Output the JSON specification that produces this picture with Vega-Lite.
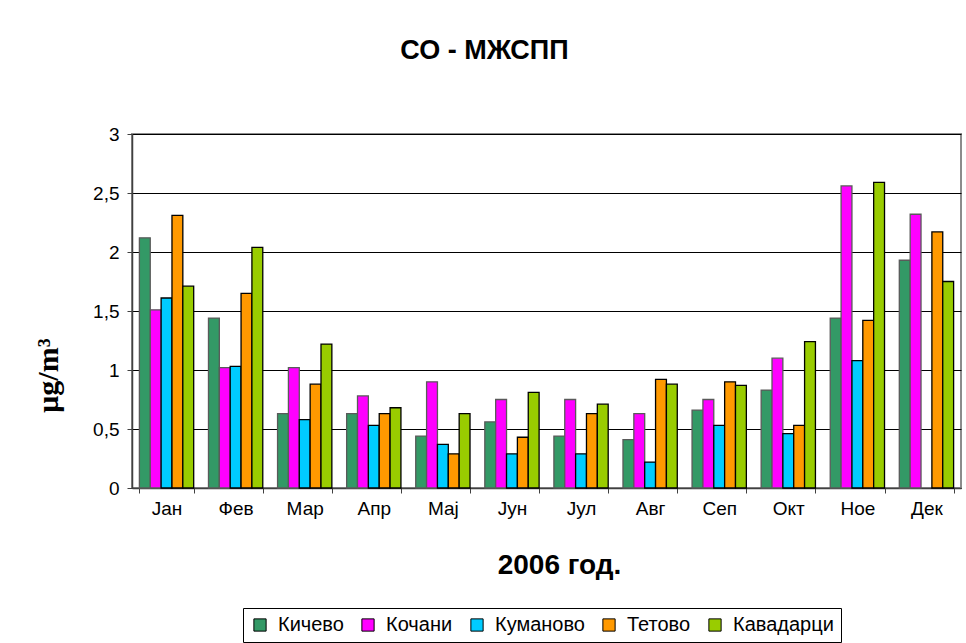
{
  "$schema": "https://vega.github.io/schema/vega-lite/v6.json",
  "width": 829,
  "height": 354,
  "autosize": {"type": "none"},
  "padding": {"left": 132, "top": 134, "right": 5, "bottom": 155},
  "background": "white",
  "title": {
    "text": "СО - МЖСПП",
    "font": "Liberation Sans",
    "fontSize": 27,
    "fontWeight": "bold",
    "color": "black",
    "anchor": "middle",
    "frame": "group",
    "baseline": "alphabetic",
    "dx": -62,
    "offset": 39
  },
  "config": {
    "view": {"stroke": "#8c8c8c", "strokeWidth": 2},
    "font": "Liberation Sans"
  },
  "data": {
    "values": [
      {"month": "Јан", "station": "Кичево", "value": 2.12},
      {"month": "Јан", "station": "Кочани", "value": 1.51},
      {"month": "Јан", "station": "Куманово", "value": 1.61},
      {"month": "Јан", "station": "Тетово", "value": 2.31},
      {"month": "Јан", "station": "Кавадарци", "value": 1.71},
      {"month": "Фев", "station": "Кичево", "value": 1.44},
      {"month": "Фев", "station": "Кочани", "value": 1.02},
      {"month": "Фев", "station": "Куманово", "value": 1.03},
      {"month": "Фев", "station": "Тетово", "value": 1.65},
      {"month": "Фев", "station": "Кавадарци", "value": 2.04},
      {"month": "Мар", "station": "Кичево", "value": 0.63},
      {"month": "Мар", "station": "Кочани", "value": 1.02},
      {"month": "Мар", "station": "Куманово", "value": 0.58},
      {"month": "Мар", "station": "Тетово", "value": 0.88},
      {"month": "Мар", "station": "Кавадарци", "value": 1.22},
      {"month": "Апр", "station": "Кичево", "value": 0.63},
      {"month": "Апр", "station": "Кочани", "value": 0.78},
      {"month": "Апр", "station": "Куманово", "value": 0.53},
      {"month": "Апр", "station": "Тетово", "value": 0.63},
      {"month": "Апр", "station": "Кавадарци", "value": 0.68},
      {"month": "Мај", "station": "Кичево", "value": 0.44},
      {"month": "Мај", "station": "Кочани", "value": 0.9},
      {"month": "Мај", "station": "Куманово", "value": 0.37},
      {"month": "Мај", "station": "Тетово", "value": 0.29},
      {"month": "Мај", "station": "Кавадарци", "value": 0.63},
      {"month": "Јун", "station": "Кичево", "value": 0.56},
      {"month": "Јун", "station": "Кочани", "value": 0.75},
      {"month": "Јун", "station": "Куманово", "value": 0.29},
      {"month": "Јун", "station": "Тетово", "value": 0.43},
      {"month": "Јун", "station": "Кавадарци", "value": 0.81},
      {"month": "Јул", "station": "Кичево", "value": 0.44},
      {"month": "Јул", "station": "Кочани", "value": 0.75},
      {"month": "Јул", "station": "Куманово", "value": 0.29},
      {"month": "Јул", "station": "Тетово", "value": 0.63},
      {"month": "Јул", "station": "Кавадарци", "value": 0.71},
      {"month": "Авг", "station": "Кичево", "value": 0.41},
      {"month": "Авг", "station": "Кочани", "value": 0.63},
      {"month": "Авг", "station": "Куманово", "value": 0.22},
      {"month": "Авг", "station": "Тетово", "value": 0.92},
      {"month": "Авг", "station": "Кавадарци", "value": 0.88},
      {"month": "Сеп", "station": "Кичево", "value": 0.66},
      {"month": "Сеп", "station": "Кочани", "value": 0.75},
      {"month": "Сеп", "station": "Куманово", "value": 0.53},
      {"month": "Сеп", "station": "Тетово", "value": 0.9},
      {"month": "Сеп", "station": "Кавадарци", "value": 0.87},
      {"month": "Окт", "station": "Кичево", "value": 0.83},
      {"month": "Окт", "station": "Кочани", "value": 1.1},
      {"month": "Окт", "station": "Куманово", "value": 0.46},
      {"month": "Окт", "station": "Тетово", "value": 0.53},
      {"month": "Окт", "station": "Кавадарци", "value": 1.24},
      {"month": "Ное", "station": "Кичево", "value": 1.44},
      {"month": "Ное", "station": "Кочани", "value": 2.56},
      {"month": "Ное", "station": "Куманово", "value": 1.08},
      {"month": "Ное", "station": "Тетово", "value": 1.42},
      {"month": "Ное", "station": "Кавадарци", "value": 2.59},
      {"month": "Дек", "station": "Кичево", "value": 1.93},
      {"month": "Дек", "station": "Кочани", "value": 2.32},
      {"month": "Дек", "station": "Тетово", "value": 2.17},
      {"month": "Дек", "station": "Кавадарци", "value": 1.75}
    ]
  },
  "mark": {"type": "bar", "strokeWidth": 1.3},
  "encoding": {
    "x": {
      "field": "month",
      "type": "nominal",
      "sort": ["Јан", "Фев", "Мар", "Апр", "Мај", "Јун", "Јул", "Авг", "Сеп", "Окт", "Ное", "Дек"],
      "scale": {"paddingInner": 0.214, "paddingOuter": 0.107},
      "axis": {
        "title": "2006 год.",
        "titleFont": "Liberation Sans",
        "titleFontSize": 28,
        "titleFontWeight": "bold",
        "titleColor": "black",
        "titleX": 427,
        "titleY": 85,
        "titleBaseline": "alphabetic",
        "titleAlign": "center",
        "labelAngle": 0,
        "labelFontSize": 19,
        "labelColor": "black",
        "labelPadding": 6,
        "tickBand": "extent",
        "tickSize": 5,
        "tickColor": "#404040",
        "domainColor": "#404040",
        "domainWidth": 1.5,
        "grid": false
      }
    },
    "xOffset": {
      "field": "station",
      "type": "nominal",
      "sort": ["Кичево", "Кочани", "Куманово", "Тетово", "Кавадарци"],
      "scale": {"paddingInner": 0, "paddingOuter": 0}
    },
    "y": {
      "field": "value",
      "type": "quantitative",
      "scale": {"domain": [0, 3], "nice": false},
      "axis": {
        "title": "μg/m³",
        "titleFont": "Liberation Serif",
        "titleFontSize": 30,
        "titleFontWeight": "bold",
        "titleColor": "black",
        "titleX": -84,
        "titleY": 241,
        "titleAlign": "center",
        "titleBaseline": "middle",
        "values": [0, 0.5, 1, 1.5, 2, 2.5, 3],
        "labelExpr": "replace(format(datum.value, '~g'), '.', ',')",
        "labelFontSize": 19,
        "labelColor": "black",
        "labelPadding": 8,
        "tickSize": 5,
        "tickColor": "#404040",
        "domainColor": "#404040",
        "domainWidth": 1.5,
        "grid": true,
        "gridColor": "black",
        "gridWidth": 1
      }
    },
    "color": {
      "field": "station",
      "type": "nominal",
      "sort": ["Кичево", "Кочани", "Куманово", "Тетово", "Кавадарци"],
      "scale": {
        "domain": ["Кичево", "Кочани", "Куманово", "Тетово", "Кавадарци"],
        "range": ["#339966", "#ff00ff", "#00ccff", "#ff9900", "#99cc00"]
      },
      "legend": {
        "title": null,
        "orient": "none",
        "direction": "horizontal",
        "legendX": 111,
        "legendY": 474,
        "strokeColor": "black",
        "fillColor": "white",
        "padding": 7,
        "symbolType": "square",
        "symbolSize": 150,
        "symbolStrokeColor": "black",
        "symbolStrokeWidth": 1,
        "symbolOpacity": 1,
        "labelFontSize": 20,
        "labelColor": "black",
        "labelFont": "Liberation Sans",
        "labelOffset": 8,
        "columnPadding": 14
      }
    },
    "stroke": {
      "condition": {"test": "datum.station === 'Кичево' || datum.station === 'Кочани'", "value": "#5a5a5a"},
      "value": "black"
    }
  }
}
